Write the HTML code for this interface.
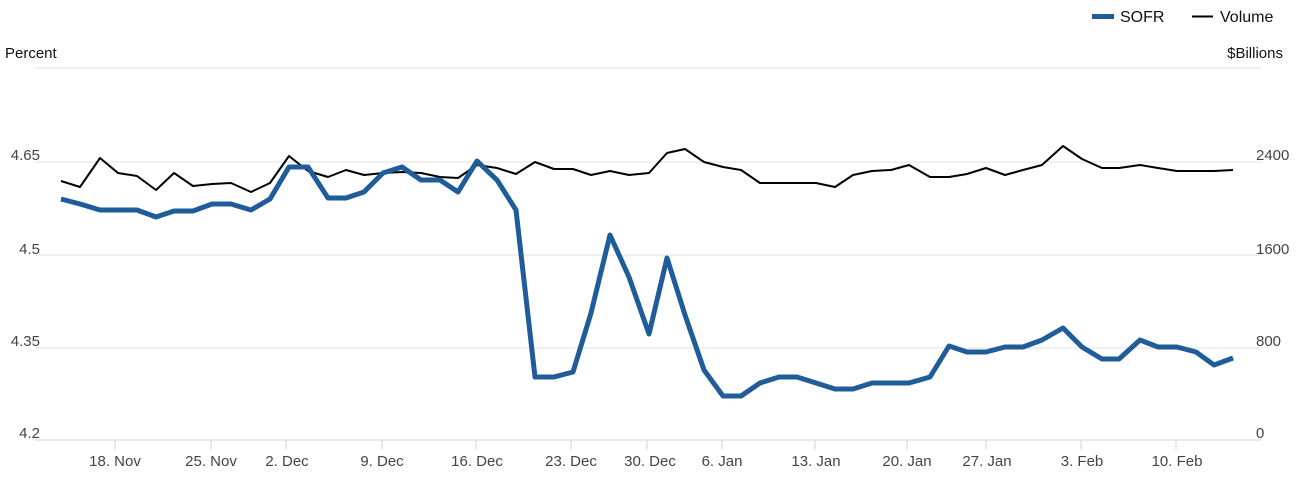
<!DOCTYPE html>
<html><head><meta charset="utf-8"><style>
html,body{margin:0;padding:0;background:#fff;}
svg{display:block;font-family:"Liberation Sans",sans-serif;}
</style></head><body>
<svg width="1300" height="477" viewBox="0 0 1300 477">
<g stroke="#e2e2e2" stroke-width="1">
<line x1="35" y1="68" x2="1262" y2="68"/>
<line x1="35" y1="162" x2="1262" y2="162"/>
<line x1="35" y1="255" x2="1262" y2="255"/>
<line x1="35" y1="348" x2="1262" y2="348"/>
</g>
<line x1="35" y1="440" x2="1262" y2="440" stroke="#ccd6eb" stroke-width="1"/>
<g stroke="#ccd6eb" stroke-width="1">
<line x1="115" y1="440" x2="115" y2="450"/><line x1="211" y1="440" x2="211" y2="450"/>
<line x1="286" y1="440" x2="286" y2="450"/><line x1="382" y1="440" x2="382" y2="450"/>
<line x1="476" y1="440" x2="476" y2="450"/><line x1="571" y1="440" x2="571" y2="450"/>
<line x1="647" y1="440" x2="647" y2="450"/><line x1="722" y1="440" x2="722" y2="450"/>
<line x1="815" y1="440" x2="815" y2="450"/><line x1="907" y1="440" x2="907" y2="450"/>
<line x1="986" y1="440" x2="986" y2="450"/><line x1="1081" y1="440" x2="1081" y2="450"/>
<line x1="1176" y1="440" x2="1176" y2="450"/>
</g>
<g font-size="15" fill="#444" text-anchor="middle">
<text x="115" y="466">18. Nov</text><text x="211" y="466">25. Nov</text>
<text x="287" y="466">2. Dec</text><text x="382" y="466">9. Dec</text>
<text x="477" y="466">16. Dec</text><text x="571" y="466">23. Dec</text>
<text x="650" y="466">30. Dec</text><text x="722" y="466">6. Jan</text>
<text x="816" y="466">13. Jan</text><text x="907" y="466">20. Jan</text>
<text x="987" y="466">27. Jan</text><text x="1082" y="466">3. Feb</text>
<text x="1177" y="466">10. Feb</text>
</g>
<g font-size="15" fill="#444" text-anchor="end">
<text x="40" y="160">4.65</text><text x="40" y="254">4.5</text>
<text x="40" y="346">4.35</text><text x="40" y="438">4.2</text>
</g>
<g font-size="15" fill="#444" text-anchor="start">
<text x="1256" y="160">2400</text><text x="1256" y="254">1600</text>
<text x="1256" y="346">800</text><text x="1256" y="438">0</text>
</g>
<text x="5" y="58" font-size="15" fill="#111">Percent</text>
<text x="1283" y="58" font-size="15" fill="#111" text-anchor="end">$Billions</text>
<rect x="1092" y="14" width="22" height="5" fill="#1f5c99"/>
<text x="1120" y="22" font-size="16" fill="#111">SOFR</text>
<line x1="1192" y1="16.5" x2="1213" y2="16.5" stroke="#000" stroke-width="2"/>
<text x="1220" y="22" font-size="16" fill="#111">Volume</text>
<polyline fill="none" stroke="#000" stroke-width="2" stroke-linejoin="round" points="61,181 80,187 100,158 118,173 137,176 156,190 174,173 193,186 212,184 231,183 251,192 270,183 289,156 308,171 328,177 346,170 364,175 383,173 402,172 421,173 440,177 458,178 477,165 497,168 516,174 535,162 554,169 573,169 591,175 610,171 629,175 649,173 667,153 685,149 704,162 723,167 741,170 760,183 779,183 797,183 816,183 835,187 853,175 872,171 891,170 909,165 930,177 949,177 967,174 986,168 1005,175 1023,170 1042,165 1063,146 1082,159 1102,168 1119,168 1140,165 1158,168 1177,171 1196,171 1214,171 1233,170"/>
<polyline fill="none" stroke="#1f5c99" stroke-width="5" stroke-linejoin="round" points="61,199 80,204 100,210 118,210 137,210 156,217 174,211 193,211 212,204 231,204 251,210 270,199 289,167 308,167 328,198 346,198 364,192 383,173 402,167 421,180 440,180 458,192 477,161 497,180 516,210 535,377 554,377 573,372 591,313 610,235 629,277 649,334 667,258 685,315 704,370 723,396 741,396 760,383 779,377 797,377 816,383 835,389 853,389 872,383 891,383 909,383 930,377 949,346 967,352 986,352 1005,347 1023,347 1042,340 1063,328 1082,347 1102,359 1119,359 1140,340 1158,347 1177,347 1196,352 1214,365 1233,358"/>
</svg>
</body></html>
